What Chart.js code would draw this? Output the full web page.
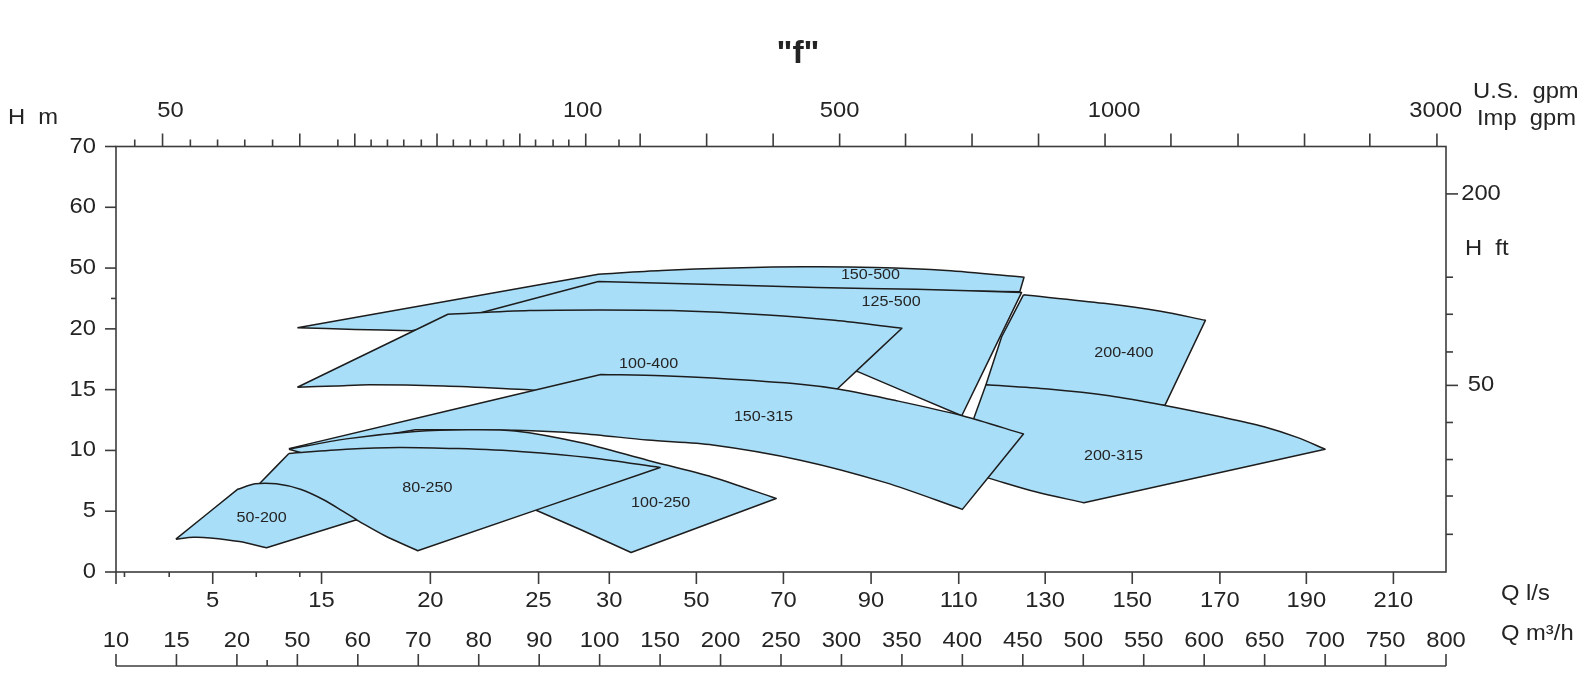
<!DOCTYPE html>
<html>
<head>
<meta charset="utf-8">
<title>"f"</title>
<script src="https://cdn.jsdelivr.net/npm/chart.js@4.4.1/dist/chart.umd.min.js"></script>
<style>
  html, body { margin: 0; padding: 0; background: #fff; }
  canvas { display: block; }
</style>
</head>
<body>
<canvas id="pumpChart" width="1596" height="675"></canvas>
<script>
// Head, H m (left). One chart division per label.
const headLabels = ['0', '5', '10', '15', '20', '50', '60', '70'];
const headMinorAt = [4.5];

// Flow, Q m3/h (lowest scale). One chart division per label.
const flowM3hLabels = ['10', '15', '20', '50', '60', '70', '80', '90', '100', '150', '200', '250',
    '300', '350', '400', '450', '500', '550', '600', '650', '700', '750', '800'];
const flowM3hMinorAt = [2.5];

// Flow, Q l/s (read against the m3/h divisions)
const flowLsLabels = ['5', '15', '20', '25', '30', '50', '70', '90', '110', '130', '150', '170', '190', '210'];
const flowLsAt = [1.60, 3.40, 5.20, 6.99, 8.16, 9.60, 11.04, 12.49, 13.94, 15.37, 16.81, 18.26, 19.69, 21.13];
const flowLsMinorAt = [0.14, 0.88, 2.32, 3.04];

// U.S. gpm / Imp gpm (top)
const gpmLabels = ['50', '100', '500', '1000', '3000'];
const gpmLabelAt = [0.90, 7.72, 11.97, 16.51, 21.83];
const gpmMajorAt = [0.77, 3.04, 3.95, 5.31, 6.68, 7.77, 8.67, 9.77, 10.87, 11.97, 13.06, 14.16,
    15.26, 16.36, 17.45, 18.56, 19.66, 20.74, 21.85];
const gpmMinorAt = [0.31, 1.23, 1.68, 2.13, 2.59, 3.67, 4.22, 4.49, 4.76, 5.05, 5.58, 5.86,
    6.13, 6.41, 6.94, 7.23, 7.49, 8.32];

// Head, H ft (right)
const feetLabels = ['200', '50'];
const feetAt = [6.22, 3.07];
const feetMinorAt = [4.85, 4.24, 3.62, 2.46, 1.85, 1.25, 0.62];

// Pump ranges, listed back to front.
// Each outline is a list of edges; each edge is a run of [flow division, head division] points.
const pumpNames = ['150-500', '200-400', '125-500', '100-400', '200-315', '150-315', '100-250', '80-250', '50-200'];
const range150_500 = [
    [[3.00, 4.02], [7.98, 4.90]],
    [[7.98, 4.90], [9.03, 4.96], [10.20, 5.00], [11.38, 5.02], [12.56, 5.01], [13.74, 4.96], [15.02, 4.85]],
    [[15.02, 4.85], [14.95, 4.61]],
    [[14.95, 4.61], [11.60, 4.66], [7.98, 4.72]],
    [[7.98, 4.72], [6.16, 4.25]],
    [[6.16, 4.25], [5.32, 4.05]],
    [[5.32, 4.05], [4.89, 3.97]],
    [[4.89, 3.97], [3.95, 3.99], [3.00, 4.02]]
];
const range200_400 = [
    [[15.01, 4.56], [16.34, 4.42], [17.28, 4.29], [18.02, 4.14]],
    [[18.02, 4.14], [17.35, 2.74]],
    [[17.35, 2.74], [16.27, 2.85]],
    [[16.27, 2.85], [14.92, 2.95]],
    [[14.92, 2.95], [14.39, 3.08]],
    [[14.39, 3.08], [14.65, 3.87]],
    [[14.65, 3.87], [15.01, 4.56]]
];
const range125_500 = [
    [[7.98, 4.78], [9.87, 4.73], [11.60, 4.68], [13.24, 4.65], [14.98, 4.60]],
    [[14.98, 4.60], [13.99, 2.57]],
    [[13.99, 2.57], [12.26, 3.30]],
    [[12.26, 3.30], [9.87, 3.88]],
    [[9.87, 3.88], [6.84, 4.05]],
    [[6.84, 4.05], [6.05, 4.27]],
    [[6.05, 4.27], [7.98, 4.78]]
];
const range100_400 = [
    [[3.00, 3.04], [5.49, 4.24]],
    [[5.49, 4.24], [6.84, 4.30], [7.98, 4.31], [9.19, 4.30], [10.78, 4.23], [11.89, 4.14], [13.00, 4.01]],
    [[13.00, 4.01], [11.93, 3.01]],
    [[11.93, 3.01], [9.87, 2.85]],
    [[9.87, 2.85], [8.18, 2.85]],
    [[8.18, 2.85], [6.83, 3.00]],
    [[6.83, 3.00], [5.43, 3.06], [4.19, 3.08], [3.64, 3.06], [3.00, 3.04]]
];
const range200_315 = [
    [[14.39, 3.08], [15.42, 3.01], [16.43, 2.90], [17.35, 2.74], [18.29, 2.55], [18.99, 2.39], [19.55, 2.21], [20.00, 2.02]],
    [[20.00, 2.02], [16.01, 1.14]],
    [[16.01, 1.14], [15.21, 1.32], [14.45, 1.54]],
    [[14.45, 1.54], [13.91, 1.71]],
    [[13.91, 1.71], [14.19, 2.53]],
    [[14.19, 2.53], [14.39, 3.08]]
];
const range150_315 = [
    [[2.86, 2.03], [8.02, 3.25]],
    [[8.02, 3.25], [9.03, 3.23], [9.87, 3.19], [11.32, 3.09], [11.94, 3.01], [12.90, 2.82], [14.00, 2.57], [15.01, 2.27]],
    [[15.01, 2.27], [14.00, 1.03]],
    [[14.00, 1.03], [12.73, 1.47], [11.32, 1.84], [9.87, 2.09], [8.79, 2.17], [7.68, 2.28], [6.60, 2.33], [4.95, 2.34]],
    [[4.95, 2.34], [3.81, 2.14]],
    [[3.81, 2.14], [2.86, 2.03]]
];
const range100_250 = [
    [[2.86, 2.02], [3.81, 2.19], [4.95, 2.31], [5.83, 2.34], [6.60, 2.32], [7.68, 2.13], [8.79, 1.84], [9.87, 1.56], [10.92, 1.21]],
    [[10.92, 1.21], [8.52, 0.32]],
    [[8.52, 0.32], [7.70, 0.69], [6.94, 1.02]],
    [[6.94, 1.02], [6.16, 1.37]],
    [[6.16, 1.37], [3.97, 1.71]],
    [[3.97, 1.71], [2.86, 2.02]]
];
const range80_250 = [
    [[2.86, 1.95], [3.81, 2.02], [4.68, 2.05], [5.66, 2.03], [6.73, 1.98], [7.85, 1.88], [9.00, 1.72]],
    [[9.00, 1.72], [4.99, 0.35]],
    [[4.99, 0.35], [4.44, 0.60], [3.99, 0.85]],
    [[3.99, 0.85], [3.13, 1.04]],
    [[3.13, 1.04], [2.49, 1.21]],
    [[2.49, 1.21], [2.38, 1.46]],
    [[2.38, 1.46], [2.86, 1.95]]
];
const range50_200 = [
    [[0.99, 0.54], [2.01, 1.36]],
    [[2.01, 1.36], [2.30, 1.45], [2.65, 1.45], [3.05, 1.36], [3.45, 1.18], [3.75, 1.00], [3.98, 0.86]],
    [[3.98, 0.86], [2.49, 0.40]],
    [[2.49, 0.40], [2.04, 0.50], [1.56, 0.56], [1.28, 0.57], [0.99, 0.54]]
];
const pumpOutlines = [range150_500, range200_400, range125_500, range100_400, range200_315,
    range150_315, range100_250, range80_250, range50_200];
const pumpLabelX = [12.48, 16.67, 12.82, 8.81, 16.50, 10.71, 9.01, 5.15, 2.41];
const pumpLabelY = [4.89, 3.60, 4.45, 3.43, 1.92, 2.55, 1.14, 1.39, 0.90];

const FILL = '#a9def8';
const EDGE = '#1d1d1d';
const AXIS = '#3c3c3c';
const INK = '#242424';
const FONT = '"Liberation Sans", Arial, sans-serif';

function drawText(ctx, str, x, y, align, size, weight, stretch) {
    ctx.save();
    ctx.translate(x, y);
    ctx.scale(stretch || 1.08, 1);
    ctx.font = `${weight || 'normal'} ${size}px ${FONT}`;
    ctx.fillStyle = INK;
    ctx.textAlign = align;
    ctx.textBaseline = 'middle';
    ctx.fillText(str, 0, 0);
    ctx.restore();
}

// fill each range inside its own outline, with the same curve path the line uses
const rangeFill = {
    id: 'rangeFill',
    beforeDatasetDraw(chart, args) {
        const line = args.meta.dataset;
        if (!line || !line.points || !line.points.length) return;
        const ctx = chart.ctx;
        line.updateControlPoints(chart.chartArea, 'x');
        ctx.save();
        ctx.beginPath();
        line.path(ctx);
        ctx.closePath();
        ctx.fillStyle = chart.data.datasets[args.index].backgroundColor;
        ctx.fill();
        ctx.restore();
    }
};

const rangeLabels = {
    id: 'rangeLabels',
    afterDatasetsDraw(chart) {
        const {ctx, scales: {x, y}} = chart;
        pumpNames.forEach((name, i) => {
            drawText(ctx, name, x.getPixelForValue(pumpLabelX[i]), y.getPixelForValue(pumpLabelY[i]), 'center', 15.5, 'normal', 1.04);
        });
    }
};

const pumpAxes = {
    id: 'pumpAxes',
    afterDraw(chart) {
        const {ctx, chartArea: a, scales: {x, y}} = chart;
        const seg = (x1, y1, x2, y2) => {
            ctx.beginPath();
            ctx.moveTo(x1, y1);
            ctx.lineTo(x2, y2);
            ctx.stroke();
        };
        ctx.save();
        ctx.strokeStyle = AXIS;
        ctx.lineWidth = 1.6;

        // frame
        ctx.strokeRect(a.left, a.top, a.right - a.left, a.bottom - a.top);
        seg(a.left, a.bottom, a.left, a.bottom + 12);

        // H m
        headLabels.forEach((t, i) => {
            const py = y.getPixelForValue(i);
            seg(a.left - 11, py, a.left, py);
            drawText(ctx, t, a.left - 20, py, 'right', 22);
        });
        headMinorAt.forEach(v => {
            const py = y.getPixelForValue(v);
            seg(a.left - 5, py, a.left, py);
        });

        // Q l/s on the bottom edge
        flowLsAt.forEach((v, i) => {
            const px = x.getPixelForValue(v);
            seg(px, a.bottom, px, a.bottom + 12);
            drawText(ctx, flowLsLabels[i], px, a.bottom + 29, 'center', 22);
        });
        flowLsMinorAt.forEach(v => {
            const px = x.getPixelForValue(v);
            seg(px, a.bottom, px, a.bottom + 5);
        });

        // Q m3/h below it
        const mY = a.bottom + 94;
        seg(a.left, mY, a.right, mY);
        flowM3hLabels.forEach((t, i) => {
            const px = x.getPixelForValue(i);
            seg(px, mY, px, mY - 12);
            drawText(ctx, t, px, a.bottom + 69, 'center', 22);
        });
        flowM3hMinorAt.forEach(v => {
            const px = x.getPixelForValue(v);
            seg(px, mY, px, mY - 6);
        });

        // gpm on top
        gpmMajorAt.forEach(v => {
            const px = x.getPixelForValue(v);
            seg(px, a.top, px, a.top - 13);
        });
        gpmMinorAt.forEach(v => {
            const px = x.getPixelForValue(v);
            seg(px, a.top, px, a.top - 7);
        });
        gpmLabels.forEach((t, i) => {
            drawText(ctx, t, x.getPixelForValue(gpmLabelAt[i]), a.top - 36, 'center', 22);
        });

        // H ft on the right
        feetAt.forEach((v, i) => {
            const py = y.getPixelForValue(v);
            seg(a.right, py, a.right + 12, py);
            drawText(ctx, feetLabels[i], a.right + 35, py, 'center', 22);
        });
        feetMinorAt.forEach(v => {
            const py = y.getPixelForValue(v);
            seg(a.right, py, a.right + 7, py);
        });
        ctx.restore();

        // axis names and title
        drawText(ctx, '"f"', chart.width / 2, 54, 'center', 32, 'bold', 1.05);
        drawText(ctx, 'H  m', 8, 118, 'left', 22);
        drawText(ctx, 'U.S.  gpm', a.right + 27, 92, 'left', 22);
        drawText(ctx, 'Imp  gpm', a.right + 31, 119, 'left', 22);
        drawText(ctx, 'H  ft', a.right + 19, 249, 'left', 22);
        drawText(ctx, 'Q l/s', a.right + 55, 594, 'left', 22);
        drawText(ctx, 'Q m\u00b3/h', a.right + 55, 634, 'left', 22);
    }
};

document.addEventListener('DOMContentLoaded', () => {
    const datasets = pumpNames.map((name, i) => {
        // edges meet at a repeated point, which keeps the corner sharp in the spline
        const pts = pumpOutlines[i].flat(1).map(p => ({x: p[0], y: p[1]}));
        return {
            label: name,
            data: pts,
            showLine: true,
            backgroundColor: FILL,
            borderColor: EDGE,
            borderWidth: 1.5,
            borderJoinStyle: 'round',
            pointRadius: 0,
            pointHoverRadius: 0,
            tension: 0.3,
            fill: false,
            order: pumpNames.length - i
        };
    });

    const ctx = document.getElementById('pumpChart').getContext('2d');
    new Chart(ctx, {
        type: 'scatter',
        data: { datasets },
        options: {
            responsive: false,
            animation: false,
            layout: { padding: { left: 116, right: 150, top: 146.5, bottom: 103 } },
            scales: {
                x: { type: 'linear', min: 0, max: flowM3hLabels.length - 1, display: false },
                y: { type: 'linear', min: 0, max: headLabels.length - 1, display: false }
            },
            plugins: {
                legend: { display: false },
                tooltip: { enabled: false }
            }
        },
        plugins: [rangeFill, rangeLabels, pumpAxes]
    });
});
</script>
</body>
</html>
